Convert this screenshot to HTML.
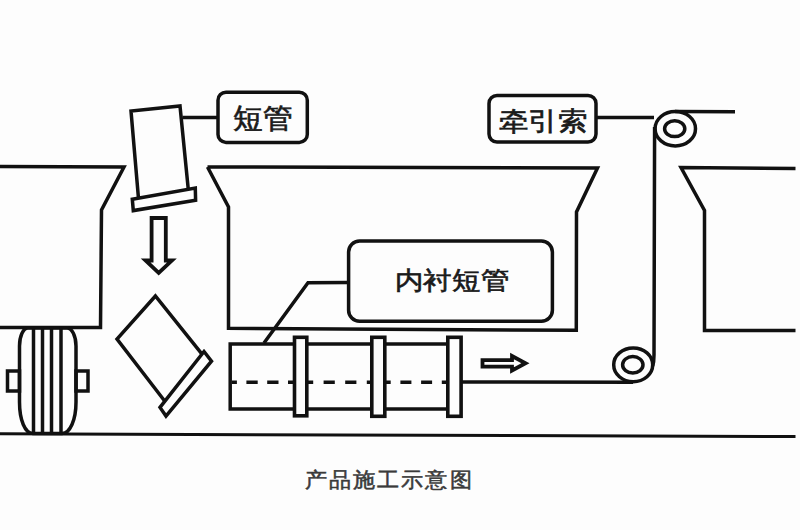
<!DOCTYPE html>
<html><head><meta charset="utf-8">
<style>
html,body{margin:0;padding:0;background:#fdfdfd;width:800px;height:530px;overflow:hidden;}
svg{display:block;}
text{font-family:"Liberation Sans",sans-serif;}
</style></head>
<body>
<svg width="800" height="530" viewBox="0 0 800 530">
<g fill="none" stroke="#111" stroke-width="3.5" stroke-linejoin="miter" stroke-linecap="butt">
  <!-- left hopper -->
  <polyline points="0,166.5 124,167 101.5,210 100.5,327.5 0,327.5"/>
  <!-- middle hopper -->
  <polyline points="207.5,167 228.5,207 228.5,328.3 576.3,330.3 576.5,212 597.5,168 207.5,167"/>
  <!-- right hopper -->
  <polyline points="795.5,168.4 681,167.5 704.5,210.5 704.5,330.4 795.5,330.4"/>
  <!-- ground -->
  <line x1="0" y1="433.8" x2="795.5" y2="436.5" stroke-width="3"/>

  <!-- wheel -->
  <path d="M28,328 L67,328 A9,18 0 0 1 76,346 L76,402 C76,420 70,433.5 62,433.5 L33,433.5 C25,433.5 19.5,420 19.5,402 L19.5,346 A8.5,18 0 0 1 28,328 Z"/>
  <line x1="33.5" y1="328" x2="33.5" y2="433.5"/>
  <line x1="42.5" y1="328" x2="42.5" y2="433.5"/>
  <line x1="51.5" y1="328" x2="51.5" y2="433.5"/>
  <line x1="61" y1="328" x2="61" y2="433.5"/>
  <rect x="7.5" y="371" width="12" height="20"/>
  <rect x="76" y="371" width="12" height="20"/>

  <!-- short tube -->
  <polyline points="138.5,198.6 131,111 180,106 188.3,189.6"/>
  <polygon points="132.3,199.2 195.3,188 195.6,200.2 133.3,210.6"/>
  <line x1="182.5" y1="117.5" x2="218" y2="117.5"/>

  <!-- down arrow -->
  <polygon points="151.6,218 165.8,218 165.8,260.5 172,260.5 158.7,273 145.5,260.5 151.6,260.5" stroke-width="3.8"/>

  <!-- tilted tube -->
  <polyline points="202,354.1 155.4,296 117,339 164.85,401.2"/>
  <polygon points="204,351.5 211.5,361.2 166,416 160,407.4"/>

  <!-- long tube -->
  <polyline points="294,344 230.2,344 230.2,409 294,409"/>
  <line x1="307" y1="344" x2="371" y2="344"/>
  <line x1="307" y1="409" x2="371" y2="409"/>
  <line x1="385" y1="344" x2="446" y2="344"/>
  <line x1="385" y1="409" x2="446" y2="409"/>
  <rect x="294.5" y="337.3" width="12.3" height="78.5" stroke-width="3.6"/>
  <rect x="371.8" y="337.3" width="13" height="79" stroke-width="3.6"/>
  <rect x="447.8" y="337.3" width="13.3" height="79" stroke-width="3.6"/>
  <line x1="232" y1="382.2" x2="294" y2="382.2" stroke-dasharray="11.3 9.5" stroke-dashoffset="6.4"/>
  <line x1="307" y1="382.2" x2="371" y2="382.2" stroke-dasharray="11.2 10.4" stroke-dashoffset="5"/>
  <line x1="385" y1="382.2" x2="447" y2="382.2" stroke-dasharray="11 9.7" stroke-dashoffset="5.3"/>

  <!-- leader to 内衬短管 -->
  <polyline points="264,343 308,282.7 348,282.5"/>

  <!-- right arrow -->
  <polygon points="482.5,360.2 512,360.2 512,356 525.5,363.2 512,370.5 512,366.6 482.5,366.6" stroke-width="3.8"/>

  <!-- cable -->
  <path d="M462,382 L633,382.3"/>
  <ellipse cx="633.2" cy="364.8" rx="19.5" ry="16.9"/>
  <ellipse cx="632.8" cy="364.8" rx="10.2" ry="8.2"/>
  <path d="M652.7,366 Q654,362 654,355 L654.6,127"/>
  <ellipse cx="675.3" cy="128.7" rx="20.2" ry="17.2"/>
  <ellipse cx="674.7" cy="128.7" rx="10.1" ry="7.9"/>
  <line x1="675" y1="111.6" x2="735" y2="111.8"/>
  <line x1="596" y1="117.4" x2="654" y2="117.4"/>

  <!-- label boxes -->
  <rect x="218" y="92.2" width="89.3" height="50.2" rx="8" fill="#fdfdfd"/>
  <rect x="348.6" y="241" width="203.8" height="80.3" rx="11" fill="#fdfdfd"/>
  <rect x="489" y="95.5" width="107" height="46.5" rx="8" fill="#fdfdfd"/>
</g>
<g fill="#1a1a1a" font-size="29" stroke="#1a1a1a" stroke-width="0.7">
  <g transform="translate(233.32,127.99) scale(0.9863,0.9273)"><text font-size="30">短管</text></g>
  <g transform="translate(394.69,289.20) scale(1.0321,0.9061)"><text font-size="28">内衬短管</text></g>
  <g transform="translate(498.69,129.57) scale(1.0361,0.9118)"><text font-size="28.5">牵引索</text></g>
</g>
<g transform="translate(304.99,486.64) scale(1.0127,0.9600)"><text font-size="22" letter-spacing="1.5" fill="#3a3a3a" stroke="#3a3a3a" stroke-width="0.55">产品施工示意图</text></g>
</svg>
</body></html>
